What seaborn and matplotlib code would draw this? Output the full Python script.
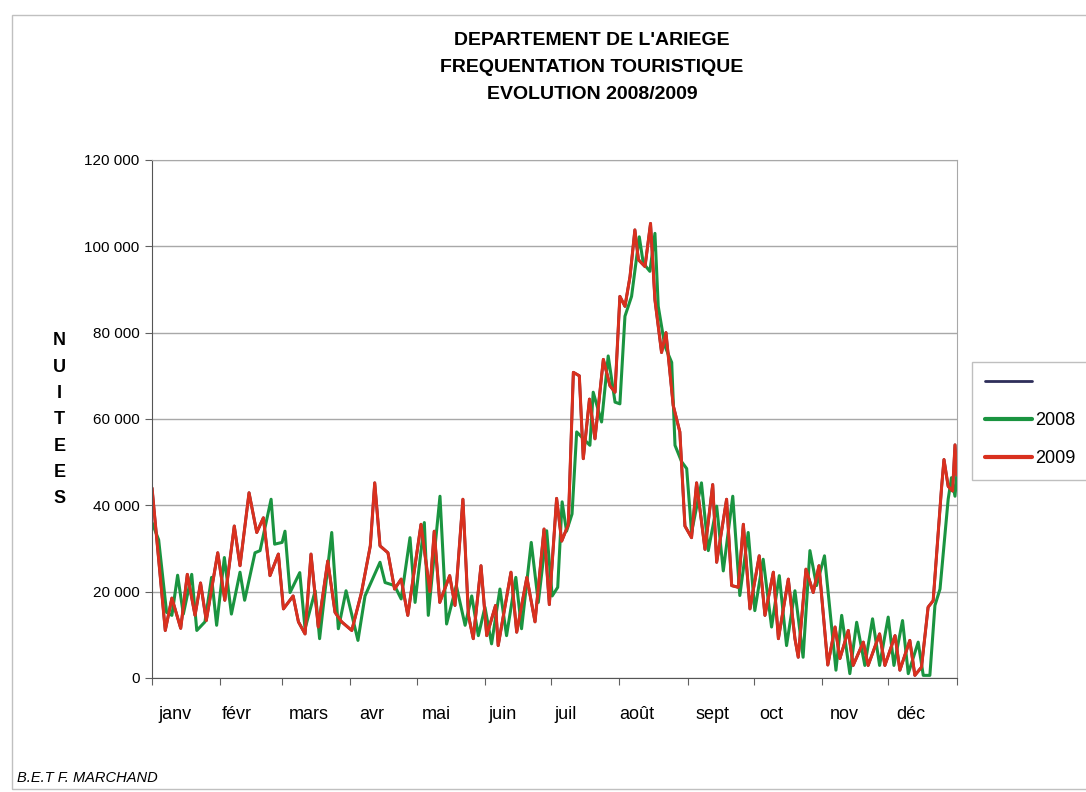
import pandas as pd
import matplotlib.pyplot as plt
import seaborn as sns
from matplotlib.lines import Line2D
from matplotlib.patches import Rectangle
from matplotlib.ticker import FuncFormatter

# jour de l'annee / nuitees
jours_2008 = [0, 3, 6.6, 9, 11.6, 14.2, 18, 20.3, 24, 27, 29.3, 32.8, 36, 39.9, 42, 46.7, 49, 54, 55.6, 59,
              60.3, 62.6, 67, 69.4, 74, 76, 81.5, 84.5, 88, 93.4, 96.6, 103.4, 105.7, 110, 113, 117, 119.3,
              123.5, 125.3, 130.6, 133.6, 138, 142, 145, 148, 151, 154, 157.8, 160.8, 165, 167.6, 172, 175.2,
              179, 181.5, 184, 186, 188, 190.5, 192.6, 198.6, 200.1, 203.9, 206.9, 210, 212.2, 214.5, 217.5,
              221, 222.8, 225.8, 228.1, 229.6, 232.6, 235.7, 237.2, 240.2, 242.5, 244.7, 249.2, 252.3, 256.1,
              259.1, 263.4, 266.6, 270.4, 273.4, 277.2, 281, 284.5, 287.8, 291.6, 295.3, 298.4, 301.4, 305,
              310.2, 312.8, 316.5, 319.6, 323.3, 326.8, 330, 333.9, 336.5, 340.4, 343, 347.5, 349.8, 352.8,
              355.1, 357.4, 361.1, 362.6, 364.2, 365]
nuitees_2008 = [36000, 32000, 15200, 14500, 23800, 14800, 24000, 11000, 13000, 23300, 12200, 27900, 14800,
                24500, 18000, 29000, 29500, 41400, 31000, 31400, 34000, 19800, 24400, 11400, 20200, 9100,
                33700, 11400, 20200, 8700, 19000, 26800, 22100, 21400, 18300, 32500, 17500, 36000, 14500,
                42100, 12500, 21400, 12200, 19000, 9800, 16400, 7900, 20600, 9800, 23300, 11400, 31400, 17500,
                34100, 19000, 21000, 40800, 34000, 38000, 57000, 53900, 66200, 59300, 74600, 63900, 63500,
                83800, 88400, 102200, 96100, 94200, 103000, 86100, 76900, 73100, 53900, 50100, 48500, 33700,
                45200, 29500, 39800, 24800, 42100, 19100, 33700, 15600, 27500, 11800, 23700, 7500, 20200, 4800,
                29500, 21400, 28300, 1800, 14500, 1000, 12900, 2900, 13700, 2900, 14100, 2900, 13300, 1000,
                8300, 600, 600, 16800, 20600, 41400, 46400, 42100, 47000]

jours_2009 = [0, 6, 9, 13, 16, 19.5, 22, 24.6, 29.8, 33, 37.3, 39.9, 44, 47.5, 50.5, 53.5, 57.3, 59.6, 64,
              66.4, 69.4, 72.1, 75.4, 79.7, 83, 86, 90.6, 95, 99, 101, 103.4, 107, 110, 113, 116, 122, 126,
              128, 130.5, 135, 137.4, 141, 143.5, 145.7, 149.2, 151.8, 155.8, 157, 162.8, 165.4, 170, 173.7,
              177.8, 180.2, 183.5, 185.8, 188.8, 191.1, 193.8, 195.6, 198.4, 200.9, 204.7, 207.7, 210, 212.2,
              214.5, 216.8, 219, 220.6, 223.6, 226.1, 228.1, 231.1, 233.1, 236.4, 239.4, 241.7, 244.7, 247,
              250.8, 254.3, 256.1, 260.6, 262.9, 265.9, 268.2, 271.2, 275.4, 278, 281.8, 284.1, 288.6, 291.6,
              293.1, 296.6, 299.9, 302.5, 306.5, 309.8, 312, 315.8, 318, 322.6, 324.8, 330, 332.4, 337,
              339.2, 343.7, 346, 349, 352, 354.3, 358.1, 359.2, 361.1, 363.1, 364.2, 365]
nuitees_2009 = [44000, 11000, 18500, 11500, 24000, 14500, 22000, 13300, 29000, 18000, 35200, 26000, 42900,
                33700, 37100, 23700, 28700, 16000, 19000, 13000, 10200, 28700, 11800, 27100, 15200, 13000,
                11000, 19800, 30600, 45200, 30600, 29000, 20600, 22900, 14500, 35600, 20000, 34000, 17500,
                23700, 16800, 41400, 14500, 9100, 26000, 9800, 16800, 7500, 24500, 10600, 23300, 13000, 34500,
                17000, 41600, 31700, 35500, 70800, 70000, 50800, 64600, 55400, 73800, 67700, 66200, 88400,
                86100, 93000, 103800, 96900, 95300, 105300, 87600, 75400, 80000, 63100, 57000, 35200, 32500,
                45200, 29800, 44800, 26800, 41400, 21400, 21000, 35600, 16000, 28300, 14500, 24500, 9100,
                22900, 9100, 4800, 25200, 19800, 26000, 3000, 11800, 4500, 11000, 2900, 8300, 2900, 10200,
                2900, 9800, 1800, 8700, 600, 2500, 16400, 17900, 44100, 50600, 44400, 43300, 54000, 47000]

# troisieme serie (sans nom), cachee sous 2009
jours_serie3 = jours_2009
nuitees_serie3 = nuitees_2009

mois = ['janv', 'févr', 'mars', 'avr', 'mai', 'juin', 'juil', 'août', 'sept', 'oct', 'nov', 'déc']
pos_mois = [10.4, 38.5, 71, 99.8, 129, 159, 187.6, 220, 254, 281, 314, 344]
debut_mois = [0, 31, 59, 90, 120, 151, 181, 212, 243, 273, 304, 334, 365]
graduations = [0, 20000, 40000, 60000, 80000, 100000, 120000]

df08 = pd.DataFrame({'jour': jours_2008, 'nuitees': nuitees_2008})
df09 = pd.DataFrame({'jour': jours_2009, 'nuitees': nuitees_2009})
df3 = pd.DataFrame({'jour': jours_serie3, 'nuitees': nuitees_serie3})

sns.set_style('white')
plt.rcParams['font.family'] = ['Liberation Sans', 'DejaVu Sans']
plt.rcParams['text.color'] = 'black'
plt.rcParams['xtick.color'] = 'black'
plt.rcParams['ytick.color'] = 'black'

c_dark = '#2e2e5a'
c_2008 = '#1a9440'
c_2009 = '#d9301e'

fig = plt.figure(figsize=(10.86, 7.92), dpi=100)
ax = fig.add_axes([0.14, 0.144, 0.741, 0.654])

sns.lineplot(data=df3, x='jour', y='nuitees', color=c_dark, lw=2, ax=ax)
sns.lineplot(data=df08, x='jour', y='nuitees', color=c_2008, lw=2.2, ax=ax)
sns.lineplot(data=df09, x='jour', y='nuitees', color=c_2009, lw=2.2, ax=ax)

ax.set_xlim(0, 365)
ax.set_ylim(0, 120000)
ax.set_yticks(graduations)
ax.yaxis.set_major_formatter(FuncFormatter(lambda v, p: f"{int(v):,}".replace(',', ' ')))
ax.yaxis.grid(True, color='#a8a8a8', lw=1)
ax.set_axisbelow(True)

ax.set_xticks(debut_mois)
ax.set_xticklabels([''] * len(debut_mois))
ax.set_xticks(pos_mois, minor=True)
ax.set_xticklabels(mois, minor=True, fontsize=13)
ax.tick_params(axis='x', which='major', direction='out', length=5, color='#606060', bottom=True)
ax.tick_params(axis='x', which='minor', length=0, pad=20)
ax.tick_params(axis='y', direction='out', length=5, color='#606060', left=True, labelsize=11, pad=4)
ax.set_xlabel('')
ax.set_ylabel('')

for s in ['top', 'right']:
    ax.spines[s].set_color('#a8a8a8')
for s in ['left', 'bottom']:
    ax.spines[s].set_color('#555555')

fig.text(0.545, 0.915, "DEPARTEMENT DE L'ARIEGE\nFREQUENTATION TOURISTIQUE\nEVOLUTION 2008/2009",
         ha='center', va='center', fontsize=14, fontweight='bold', linespacing=1.75)
fig.text(0.055, 0.47, 'N\nU\nI\nT\nE\nE\nS', ha='center', va='center', fontsize=13,
         fontweight='bold', linespacing=1.72)
fig.text(17 / 1086, 1 - 778 / 792, 'B.E.T F. MARCHAND', style='italic', fontsize=10.5, va='center')

handles = [Line2D([], [], color=c_dark, lw=2), Line2D([], [], color=c_2008, lw=3),
           Line2D([], [], color=c_2009, lw=3)]
fig.legend(handles, ['', '2008', '2009'], loc='upper left', bbox_to_anchor=(972 / 1086, 1 - 362 / 792),
           frameon=True, fancybox=False, edgecolor='#b0b0b0', handlelength=2.6,
           handletextpad=0.2, borderaxespad=0, borderpad=0.7, labelspacing=1.15,
           prop={'family': ['Liberation Sans', 'DejaVu Sans'], 'size': 13})

fig.patches.append(Rectangle((12 / 1086, 0.004), 1.0, 0.977, transform=fig.transFigure,
                             fill=False, edgecolor='#c0c0c0', lw=1))

fig.savefig('out.png', dpi=100)
